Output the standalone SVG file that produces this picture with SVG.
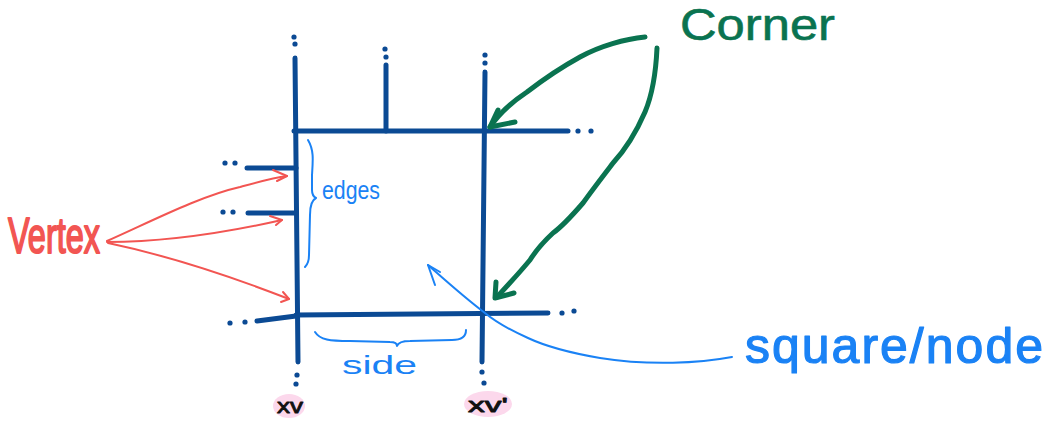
<svg xmlns="http://www.w3.org/2000/svg" width="1051" height="422" viewBox="0 0 1051 422">
<style>
.grid{stroke:#0b4a94;stroke-width:5;stroke-linecap:round;fill:none}
.dot{fill:#0b4a94}
.red{stroke:#f25552;stroke-width:2;fill:none;stroke-linecap:round;stroke-linejoin:round}
.green{stroke:#0a7350;stroke-width:5;fill:none;stroke-linecap:round;stroke-linejoin:round}
.blue{stroke:#1a82f5;stroke-width:2;fill:none;stroke-linecap:round;stroke-linejoin:round}
.hand{font-family:"Liberation Sans","DejaVu Sans",sans-serif;stroke-linejoin:round;stroke-linecap:round}
.pink{fill:#fcd8ec}
</style>
<rect width="1051" height="422" fill="#ffffff"/>
<g id="grid">
<path class="grid" d="M295,58 L298,362"/>
<path class="grid" d="M386,65 L386,131"/>
<path class="grid" d="M485,72 L482,362"/>
<path class="grid" d="M294,131 L568,131"/>
<path class="grid" d="M296,315 L548,313"/>
<path class="grid" d="M257,321 L296,316"/>
<path class="grid" d="M247,168 L296,168"/>
<path class="grid" d="M248,213 L296,213"/>
<g class="dot">
<circle cx="294" cy="37" r="2.6"/><circle cx="295" cy="44" r="2.6"/>
<circle cx="385" cy="49" r="2.6"/><circle cx="386" cy="57" r="2.6"/>
<circle cx="485" cy="55" r="2.6"/><circle cx="485" cy="63" r="2.6"/>
<circle cx="578" cy="131" r="2.6"/><circle cx="591" cy="131" r="2.6"/>
<circle cx="562" cy="313" r="2.6"/><circle cx="574" cy="311" r="2.6"/>
<circle cx="297" cy="375" r="2.6"/><circle cx="296" cy="384" r="2.6"/>
<circle cx="482" cy="372" r="2.6"/><circle cx="484" cy="383" r="2.6"/>
<circle cx="225" cy="163" r="2.6"/><circle cx="235" cy="163" r="2.6"/>
<circle cx="223" cy="212" r="2.6"/><circle cx="233" cy="212" r="2.6"/>
<circle cx="230" cy="323" r="2.6"/><circle cx="245" cy="322" r="2.6"/>
</g>
</g>
<g id="connectors">
<path class="red" d="M107,241 C150,222 200,196 240,187 C258,182 272,178 287,176"/>
<path class="red" d="M273,170 L287,176 L277,181"/>
<path class="red" d="M107,242 C160,242 220,234 282,220"/>
<path class="red" d="M270,216 L282,220 L276,225"/>
<path class="red" d="M108,243 C170,256 230,276 289,299"/>
<path class="red" d="M283,292 L289,299 L281,302"/>
<path class="green" d="M645,37 C625,39 600,46 580,57 C560,68 540,82 527,92 C515,100 500,112 490,127"/>
<path class="green" d="M498,110 L490,127 L515,122"/>
<path class="green" d="M657,48 C656,70 653,93 645,112 C635,135 625,150 613,163 C600,180 590,193 583,203 C570,218 560,228 553,233 C540,245 535,252 530,260 C520,272 510,283 497,297"/>
<path class="green" d="M496,282 L495,298 L514,293"/>
<path class="blue" d="M732,357 C700,363 650,366 600,358 C565,352 545,346 528,338 C510,330 497,323 485,313 C465,298 445,280 428,265"/>
<path class="blue" d="M435,285 L428,265 L440,272"/>
<path class="blue" d="M308,140 C314,150 313,160 312,175 L312,190 C312,195 314,197 316,198 C312,200 310,205 310,215 L309,255 C309,262 307,265 305,267"/>
<path class="blue" d="M315,332 C320,340 330,341 350,341 L390,342 C395,342 397,344 397,346 C398,343 402,341 410,341 L452,340 C462,340 466,336 466,330"/>
</g>
<g id="vertex">
<text class="hand" x="8" y="253" font-size="50" textLength="92" lengthAdjust="spacingAndGlyphs" fill="#f25552" stroke="#f25552" stroke-width="2">Vertex</text>
</g>
<g id="corner">
<text class="hand" x="680" y="40" font-size="44" textLength="155" lengthAdjust="spacingAndGlyphs" fill="#0a7350" stroke="#0a7350" stroke-width="0.6">Corner</text>
</g>
<g id="square-node">
<text class="hand" x="745" y="363" font-size="50" textLength="298" fill="#1a82f5" stroke="#1a82f5" stroke-width="1.2">square/node</text>
</g>
<g id="edges">
<text class="hand" x="322" y="199" font-size="25" textLength="58" lengthAdjust="spacingAndGlyphs" fill="#1a82f5">edges</text>
</g>
<g id="side">
<text class="hand" x="342" y="374" font-size="26" textLength="75" lengthAdjust="spacingAndGlyphs" fill="#1a82f5">side</text>
</g>
<g id="xv">
<ellipse class="pink" cx="289" cy="406" rx="16" ry="12"/>
<text class="hand" x="277" y="413" font-size="21" textLength="26" lengthAdjust="spacingAndGlyphs" fill="#111" stroke="#111" stroke-width="0.8">xv</text>
</g>
<g id="xv-prime">
<ellipse class="pink" cx="488" cy="404" rx="24" ry="13"/>
<text class="hand" x="468" y="412" font-size="21" textLength="40" lengthAdjust="spacingAndGlyphs" fill="#111" stroke="#111" stroke-width="0.8">xv'</text>
</g>
</svg>
